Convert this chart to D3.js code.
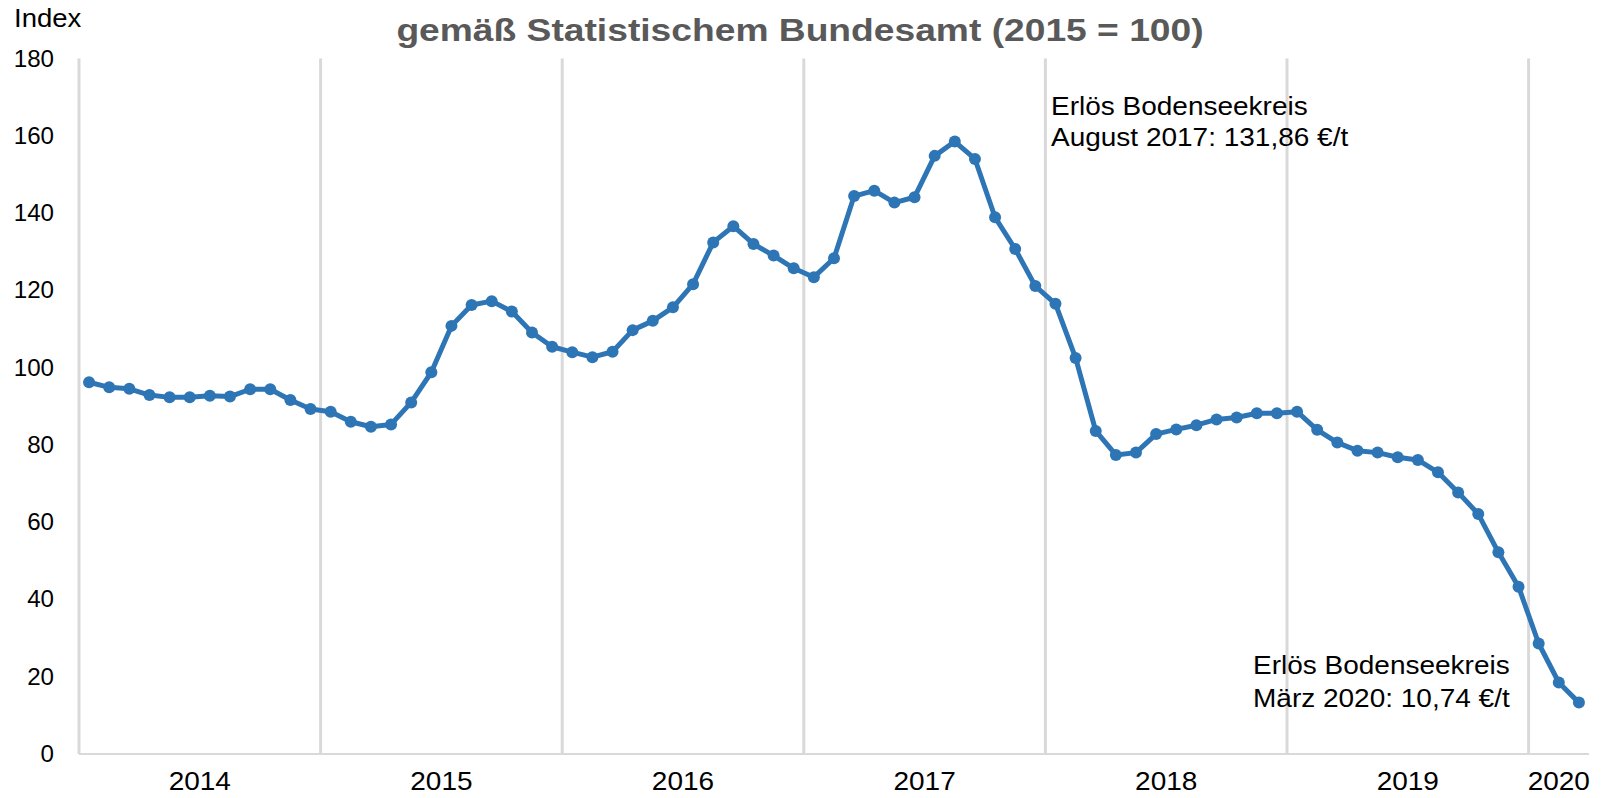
<!DOCTYPE html>
<html>
<head>
<meta charset="utf-8">
<script src="https://cdn.jsdelivr.net/npm/d3@7/dist/d3.min.js"></script>
<style>
  body { margin: 0; background: #fff; }
  svg { display: block; font-family: "Liberation Sans", Arial, sans-serif; }
</style>
</head>
<body>
<div id="chart"></div>
<script>
// monthly index values (2015 = 100), Jan..Dec
const years = ["2014", "2015", "2016", "2017", "2018", "2019", "2020"];
const idx2014 = [96.2, 94.9, 94.5, 92.9, 92.3, 92.3, 92.7, 92.5, 94.4, 94.4, 91.6, 89.3];
const idx2015 = [88.6, 86.0, 84.7, 85.3, 91.0, 98.8, 110.8, 116.2, 117.2, 114.5, 109.1, 105.4];
const idx2016 = [104.0, 102.7, 104.1, 109.7, 112.1, 115.6, 121.6, 132.4, 136.6, 132.0, 129.0, 125.7];
const idx2017 = [123.4, 128.3, 144.4, 145.8, 142.7, 144.1, 154.8, 158.5, 154.0, 138.9, 130.7, 121.1];
const idx2018 = [116.5, 102.5, 83.6, 77.4, 78.0, 82.8, 84.0, 85.1, 86.6, 87.1, 88.2, 88.2];
const idx2019 = [88.6, 83.9, 80.6, 78.5, 78.0, 76.8, 76.1, 72.9, 67.7, 62.1, 52.2, 43.3];
const idx2020 = [28.6, 18.5, 13.3];
const yTicks = [0, 20, 40, 60, 80, 100, 120, 140, 160, 180];

const titleText = "gemäß Statistischem Bundesamt (2015 = 100)";
const noteAug2017 = ["Erlös Bodenseekreis", "August 2017: 131,86 €/t"];
const noteMar2020 = ["Erlös Bodenseekreis", "März 2020: 10,74 €/t"];

const series = [idx2014, idx2015, idx2016, idx2017, idx2018, idx2019, idx2020];
const points = [];
series.forEach((vals, i) => {
    vals.forEach((v, m) => points.push({ key: years[i] + "-" + (m + 1), year: years[i], value: v }));
});

const width = 1613, height = 798;

const svg = d3.select("#chart").append("svg")
    .attr("width", width)
    .attr("height", height);

const x = d3.scaleBand()
    .domain(points.map(d => d.key))
    .range([79, 1589]);

const y = d3.scaleLinear()
    .domain([0, 180])
    .range([754, 58.5]);

// reference text is drawn a little wider than the font, hence the x-stretch
function addText(x0, y0, str, size, stretch, anchor, weight, fill) {
    return svg.append("text")
        .attr("transform", `translate(${x0},${y0}) scale(${stretch},1)`)
        .attr("text-anchor", anchor || "start")
        .style("font-size", size + "px")
        .style("font-weight", weight || "normal")
        .style("fill", fill || "#000")
        .text(str);
}

// year separators (vertical grid)
const yearStarts = years.map(y0 => x(y0 + "-1"));
svg.append("g").selectAll("line")
    .data(yearStarts)
    .enter()
    .append("line")
    .attr("x1", d => d).attr("x2", d => d)
    .attr("y1", y(180)).attr("y2", y(0))
    .style("stroke", "#d9d9d9")
    .style("stroke-width", 3);

// category axis line
svg.append("line")
    .attr("x1", x.range()[0]).attr("x2", x.range()[1])
    .attr("y1", y(0)).attr("y2", y(0))
    .style("stroke", "#d9d9d9")
    .style("stroke-width", 2);

// year labels centred on each year's months
years.forEach(yr => {
    const months = points.filter(d => d.year === yr);
    const x0 = x(months[0].key);
    const x1 = x(months[months.length - 1].key) + x.bandwidth();
    addText((x0 + x1) / 2, 790, yr, 25, 1.12, "middle");
});

// y tick labels
yTicks.forEach(t => addText(54, y(t) + 8, t, 23, 1.05, "end"));
addText(14, 27, "Index", 25, 1.1, "start");

// title (second line; first line lies above the visible area)
addText(800, 41, titleText, 31, 1.2, "middle", "bold", "#595959");

// line + markers
const line = d3.line()
    .x(d => x(d.key) + x.bandwidth() / 2)
    .y(d => y(d.value));

svg.append("path")
    .datum(points)
    .attr("d", line)
    .style("fill", "none")
    .style("stroke", "#2e75b6")
    .style("stroke-width", 5)
    .style("stroke-linejoin", "round");

svg.append("g").selectAll("circle")
    .data(points)
    .enter()
    .append("circle")
    .attr("cx", d => x(d.key) + x.bandwidth() / 2)
    .attr("cy", d => y(d.value))
    .attr("r", 6)
    .style("fill", "#2e75b6");

// annotations
noteAug2017.forEach((s, i) => addText(1051, 115 + i * 31, s, 25, 1.12));
noteMar2020.forEach((s, i) => addText(1253, 674 + i * 33, s, 25, 1.12));
</script>
</body>
</html>
